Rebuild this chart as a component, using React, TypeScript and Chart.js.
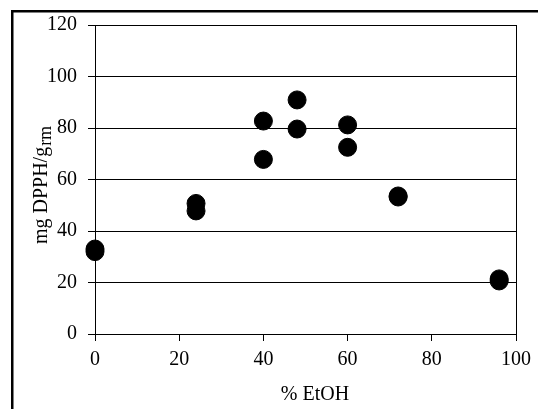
import React, { useEffect, useRef } from "react";
import { Chart, registerables } from "chart.js";

Chart.register(...registerables);

const X_TITLE = "% EtOH";
const Y_TITLE_MAIN = "mg DPPH/g";
const Y_TITLE_SUB = "rm";
const X_VALUES = [0, 0, 24, 24, 40, 40, 48, 48, 60, 60, 72, 72, 96, 96];
const Y_VALUES = [33, 32, 50.7, 47.8, 82.7, 67.8, 90.9, 79.6, 81.2, 72.5, 53.6, 53.2, 21.4, 20.6];
const X_TICKS = [0, 20, 40, 60, 80, 100];
const Y_TICKS = [0, 20, 40, 60, 80, 100, 120];

const FONT = '"Liberation Serif", "Times New Roman", serif';

const decor = {
  id: "decor",
  beforeDraw(chart: any) {
    const ctx = chart.ctx;
    ctx.save();
    ctx.fillStyle = "#fff";
    ctx.fillRect(0, 0, chart.width, chart.height);
    ctx.strokeStyle = "#000";
    ctx.lineWidth = 2.5;
    ctx.strokeRect(12.25, 11.25, 1000, 1000);
    ctx.restore();
  },
  afterDraw(chart: any) {
    const ctx = chart.ctx;
    ctx.save();
    ctx.fillStyle = "#000";
    ctx.font = `20px ${FONT}`;
    ctx.textAlign = "center";
    ctx.textBaseline = "alphabetic";
    ctx.fillText(X_TITLE, 315, 400);
    ctx.restore();

    ctx.save();
    ctx.fillStyle = "#000";
    ctx.translate(47, 185);
    ctx.rotate(-Math.PI / 2);
    ctx.textAlign = "left";
    ctx.textBaseline = "alphabetic";
    ctx.font = `20px ${FONT}`;
    const w1 = ctx.measureText(Y_TITLE_MAIN).width + 1;
    ctx.font = `18px ${FONT}`;
    const w2 = ctx.measureText(Y_TITLE_SUB).width;
    const start = -(w1 + w2) / 2;
    ctx.font = `20px ${FONT}`;
    ctx.fillText(Y_TITLE_MAIN, start, 0);
    ctx.font = `18px ${FONT}`;
    ctx.fillText(Y_TITLE_SUB, start + w1, 4);
    ctx.restore();
  },
};

export default function App() {
  const ref = useRef<HTMLCanvasElement | null>(null);

  useEffect(() => {
    if (!ref.current) return;
    const points = X_VALUES.map((x, i) => ({ x, y: Y_VALUES[i] }));
    const chart = new Chart(ref.current, {
      type: "scatter",
      data: {
        datasets: [
          {
            data: points,
            backgroundColor: "#000",
            borderColor: "#000",
            borderWidth: 1,
            pointRadius: 9,
            pointHoverRadius: 9,
            clip: false as any,
          },
        ],
      },
      plugins: [decor],
      options: {
        animation: false,
        responsive: false,
        events: [],
        layout: { padding: { left: 0, top: 25, right: 20, bottom: 0 } },
        plugins: {
          legend: { display: false },
          tooltip: { enabled: false },
        },
        scales: {
          x: {
            type: "linear",
            min: 0,
            max: 100,
            afterBuildTicks: (scale: any) => {
              scale.ticks = X_TICKS.map((v) => ({ value: v }));
            },
            afterFit: (scale: any) => {
              scale.height = 75;
            },
            ticks: {
              color: "#000",
              font: { family: FONT, size: 20 },
              padding: 7,
              maxRotation: 0,
            },
            grid: {
              drawOnChartArea: true,
              color: (c: any) => (c.tick && c.tick.value === 100 ? "#000" : "rgba(0,0,0,0)"),
              tickColor: "#000",
              tickLength: 7,
              lineWidth: 1,
            },
            border: { display: true, color: "#000", width: 1 },
          },
          y: {
            type: "linear",
            min: 0,
            max: 120,
            afterBuildTicks: (scale: any) => {
              scale.ticks = Y_TICKS.map((v) => ({ value: v }));
            },
            afterFit: (scale: any) => {
              scale.width = 95;
            },
            ticks: {
              color: "#000",
              font: { family: FONT, size: 20 },
              padding: 11,
            },
            grid: {
              color: "#000",
              tickColor: "#000",
              tickLength: 7,
              lineWidth: 1,
            },
            border: { display: true, color: "#000", width: 1 },
          },
        },
      },
    });
    return () => chart.destroy();
  }, []);

  return (
    <div style={{ position: "absolute", left: 0, top: 0, width: 538, height: 409 }}>
      <canvas ref={ref} width={538} height={409} style={{ display: "block" }} />
    </div>
  );
}
